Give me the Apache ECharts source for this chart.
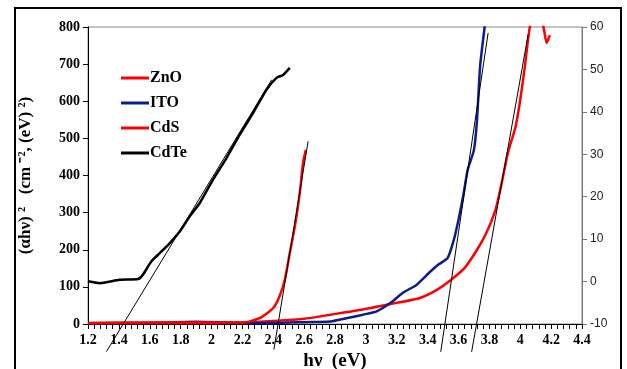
<!DOCTYPE html>
<html>
<head>
<meta charset="utf-8">
<script src="https://cdn.jsdelivr.net/npm/echarts@6/dist/echarts.min.js"></script>
<style>
  html, body { margin: 0; padding: 0; background: #fff; }
  #main { width: 627px; height: 369px; }
</style>
</head>
<body>
<div id="main"></div>
<script>
// photon energy (eV) vs (αhν)^2
const zno = [[1.2,2],[1.6,3],[2.0,3],[2.2,4],[2.4,8],[2.6,14],[2.77,25],[2.98,39],[3.2,57],[3.35,70],[3.46,92],[3.54,115],[3.64,151],[3.72,200],[3.78,245],[3.84,308],[3.88,380],[3.92,461],[3.97,532],[4.0,604],[4.03,694],[4.063,802],[4.1,840],[4.149,802],[4.171,757],[4.192,778]]
const ito = [[1.2,2],[1.6,3],[1.9,6],[2.2,3],[2.4,3],[2.6,5],[2.77,7],[2.88,16],[2.98,25],[3.07,34],[3.16,57],[3.24,84],[3.33,106],[3.42,142],[3.47,160],[3.53,178],[3.57,227],[3.6,281],[3.63,344],[3.66,416],[3.7,469],[3.72,550],[3.74,694],[3.77,802]]
const cds = [[1.2,3],[1.6,4],[2.0,4],[2.2,4],[2.25,7],[2.33,20],[2.4,43],[2.44,74],[2.475,119],[2.507,191],[2.54,263],[2.572,353],[2.593,434],[2.611,469]]
const cdte = [[1.2,115],[1.276,110],[1.405,119],[1.524,121],[1.556,133],[1.611,169],[1.665,191],[1.73,218],[1.794,249],[1.859,290],[1.924,326],[2.01,389],[2.097,447],[2.183,510],[2.269,568],[2.356,631],[2.421,663],[2.464,671],[2.507,690]]

// straight-line fits drawn through the edges
const cdteFit = [[1.32,-74],[2.39,658]]
const cdsFit = [[2.404,-69],[2.626,492]]
const itoFit = [[3.485,-75],[3.792,784]]
const znoFit = [[3.685,-75],[4.051,779]]

const serif = '"Liberation Serif", "Times New Roman", serif'

const chart = echarts.init(document.getElementById('main'))

const curve = (name, data, color) => ({
  name, type: 'line', data, symbol: 'none', smooth: 0.2,
  lineStyle: { color, width: 2.5 }, itemStyle: { color }
})
const fit = (data) => ({
  type: 'line', data, symbol: 'none', clip: false, silent: true,
  lineStyle: { color: '#000', width: 1 }, z: 3
})

chart.setOption({
  animation: false,
  graphic: [{
    type: 'rect', shape: { x: 15, y: 8, width: 606, height: 380 },
    style: { fill: 'none', stroke: '#000', lineWidth: 2 }, z: -1
  }],
  grid: { left: 88, right: 45, top: 27, bottom: 45, outerBoundsMode: 'none', show: true, borderColor: '#888', borderWidth: 1 },
  legend: {
    orient: 'vertical', left: 116, top: 65, itemWidth: 28, itemHeight: 3, itemGap: 9,
    icon: 'rect',
    data: ['ZnO', 'ITO', 'CdS', 'CdTe'],
    textStyle: { fontFamily: serif, fontWeight: 'bold', fontSize: 16, color: '#000', padding: [0, 0, 0, -4] }
  },
  xAxis: {
    type: 'value', min: 1.2, max: 4.4, interval: 0.2,
    name: 'hν  (eV)', nameLocation: 'middle', nameGap: 24,
    nameTextStyle: { fontFamily: serif, fontWeight: 'bold', fontSize: 19, color: '#000' },
    axisLine: { lineStyle: { color: '#000', width: 1 } },
    axisTick: { length: 5, lineStyle: { color: '#000' } },
    minorTick: { show: true, splitNumber: 5, length: 5, lineStyle: { color: '#000' } },
    splitLine: { show: false },
    axisLabel: { fontFamily: serif, fontWeight: 'bold', fontSize: 14, color: '#000', margin: 9,
      formatter: v => String(+v.toFixed(1)) }
  },
  yAxis: [{
    type: 'value', min: 0, max: 800, interval: 100, position: 'left',
    name: '(αhν) ²   (cm ⁻², (eV) ²)', nameLocation: 'middle', nameGap: 54,
    nameTextStyle: { fontFamily: serif, fontWeight: 'bold', fontSize: 17, color: '#000' },
    axisLine: { show: true, lineStyle: { color: '#000', width: 1 } },
    axisTick: { show: true, length: 5, lineStyle: { color: '#000' } },
    splitLine: { show: false },
    axisLabel: { fontFamily: serif, fontWeight: 'bold', fontSize: 14, color: '#000', margin: 8 }
  }, {
    type: 'value', min: -10, max: 60, interval: 10, position: 'right',
    axisLine: { show: true, lineStyle: { color: '#777', width: 1 } },
    axisTick: { show: true, length: 5, lineStyle: { color: '#777' } },
    splitLine: { show: false },
    axisLabel: { fontFamily: '"Liberation Sans", Arial, sans-serif', fontSize: 12, color: '#222', margin: 8 }
  }],
  series: [
    curve('ZnO', zno, '#ff0000'),
    curve('ITO', ito, '#0c1c8c'),
    curve('CdS', cds, '#ff0000'),
    curve('CdTe', cdte, '#000000'),
    fit(cdteFit), fit(cdsFit), fit(itoFit), fit(znoFit)
  ]
})
</script>
</body>
</html>
